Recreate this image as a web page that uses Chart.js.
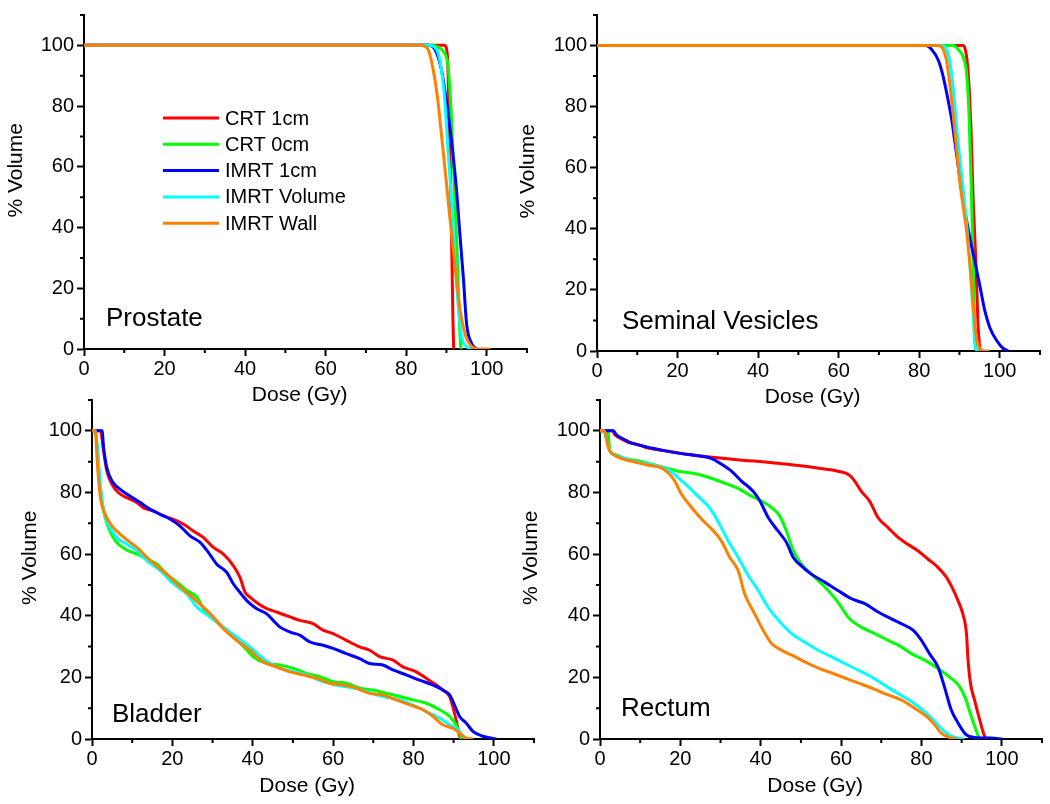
<!DOCTYPE html>
<html>
<head>
<meta charset="utf-8">
<script src="https://cdn.jsdelivr.net/npm/chart.js@4.4.0/dist/chart.umd.min.js"></script>
<style>
  body { margin: 0; background: #fff; }
  #wrap { position: relative; width: 1050px; height: 804px; overflow: hidden; background: #fff; }
  .panel { position: absolute; }
</style>
</head>
<body>
<div id="wrap">
  <div class="panel" style="left:0;top:0;width:540px;height:410px"><canvas id="prostate"></canvas></div>
  <div class="panel" style="left:510px;top:0;width:540px;height:410px"><canvas id="seminal"></canvas></div>
  <div class="panel" style="left:0;top:385px;width:545px;height:419px"><canvas id="bladder"></canvas></div>
  <div class="panel" style="left:510px;top:385px;width:540px;height:419px"><canvas id="rectum"></canvas></div>
</div>
<script>
const FONT = '"Liberation Sans", Arial, sans-serif';

const seriesNames = ['CRT 1cm', 'CRT 0cm', 'IMRT 1cm', 'IMRT Volume', 'IMRT Wall'];
const seriesColors = ['#ff0000', '#00ff00', '#0000ff', '#00ffff', '#ff8000'];
const xTicks = [0, 20, 40, 60, 80, 100];
const yTicks = [0, 20, 40, 60, 80, 100];

// Prostate  [dose Gy, % volume]
const prostateCrt1 = [[0,100],[89.5,100],[90.0,99],[90.3,95],[90.6,80],[91.0,58],[91.3,35],[91.6,10],[91.8,0]];
const prostateCrt0 = [[0,100],[86.5,100],[88,99.3],[89.2,98],[90.4,93],[91.25,76],[92.1,49],[92.75,28],[93.3,6],[93.6,0]];
const prostateImrt1 = [[0,100],[85.4,100],[87.1,98.7],[88.75,92],[90,81.5],[91.25,68.6],[92.5,52.4],[93.3,38.4],[94.2,23.4],[95,8.3],[96.25,1.8],[97.5,0]];
const prostateImrtVol = [[0,100],[85.5,100],[87.5,98.7],[88.75,92],[89.6,81.5],[90.4,65.3],[91.25,49.2],[92.1,29.8],[92.9,14.7],[93.75,4],[95,0.8],[96.25,0]];
const prostateImrtWall = [[0,100],[83.5,100],[85.4,98.7],[86.7,92],[87.9,81.5],[88.75,70.7],[90,54.6],[90.8,43.8],[92.1,27.7],[93.3,13.7],[94.6,5],[96.25,0.8],[97.9,0],[101,0]];

// Seminal vesicles
const seminalCrt1 = [[0,100],[90.8,100],[91.4,99],[92.2,90.6],[92.9,71.3],[93.4,49.8],[94.1,28.3],[94.6,8.9],[95.1,0]];
const seminalCrt0 = [[0,100],[88.5,100],[89.7,98.7],[91,96],[91.8,90.6],[92.4,76.7],[92.9,55.2],[93.3,33.7],[93.7,12.2],[94,1.4],[94.3,0]];
const seminalImrt1 = [[0,100],[81.5,100],[83.1,98.7],[84.8,95],[86,89.6],[87.2,82],[88.1,75.6],[88.9,68],[89.7,60.5],[90.5,53],[91.4,45.5],[92.6,36.9],[93.8,29.4],[95,21.8],[96.3,13.2],[97.5,7.8],[99.2,3.5],[100.8,0.9],[102.1,0]];
const seminalImrtVol = [[0,100],[85.3,100],[86.8,98.7],[87.7,93.9],[88.5,85.3],[89.3,73.4],[90.1,62.7],[91,51.9],[91.8,41.2],[92.6,28.3],[93.4,12.2],[93.8,2.5],[94.6,0]];
const seminalImrtWall = [[0,100],[84.8,100],[86,98.7],[86.8,95],[87.7,86.3],[88.5,76.7],[89.3,65.9],[90.1,55.2],[91,46.6],[91.8,39],[92.6,28.3],[93.4,15.4],[94.2,4.6],[95,0.9],[96.3,0],[97.5,0]];

// Bladder
const bladderCrt1 = [[0,100],[2.1,100],[2.9,93.3],[3.7,86.9],[5,82.6],[6.6,79.9],[8.7,78.3],[11.2,76.7],[12.8,75],[15.3,74],[17.8,72.4],[20.3,71.3],[22.8,69.7],[25.2,67.5],[27.7,65.4],[30.2,62.2],[32.7,60],[35.2,56.2],[36.8,52.5],[38.1,47.6],[39.3,46],[41.4,43.9],[43.5,42.3],[45.9,41.2],[49.3,39.6],[51.7,38.5],[55,37.4],[57.5,35.3],[60,34.2],[63.3,32],[66.6,29.9],[69.1,28.8],[71.6,26.7],[74.9,25.6],[77.4,23.4],[80.7,21.8],[83.2,19.7],[85.7,17.5],[87.3,15.9],[89,13.8],[89.8,10.5],[90.6,6.2],[91.5,0.9],[91.9,0]];
const bladderCrt0 = [[0,100],[0.8,100],[1.4,93.3],[2.1,81.5],[2.9,74],[4.1,68.6],[5.8,64.3],[8.3,61.6],[11.2,60],[13.7,58.4],[16.1,56.8],[18.6,53.5],[21.1,50.9],[23.6,48.2],[26.1,46],[27.3,43.3],[28.6,40.6],[31,38],[34.4,34.2],[37.8,29.9],[40.1,26.7],[43.5,24.5],[46.8,24],[50.1,22.9],[53.4,21.3],[56.7,20.2],[60,18.6],[63.3,18.1],[66.6,16.5],[69.9,15.9],[73.3,14.8],[76.6,13.8],[79.9,12.7],[83.2,11.6],[86.5,9.5],[89,7.3],[90.6,4.6],[91.5,1.9],[91.9,0]];
const bladderImrt1 = [[0,100],[2.5,100],[2.9,94.4],[3.7,88],[5,83.7],[7,81],[9.5,78.8],[12,76.7],[14.5,74.5],[17,72.9],[19.5,71.3],[21.9,69.1],[24.4,65.9],[26.9,63.8],[29,60.5],[31,56.8],[33.5,54.1],[35.2,50.3],[36.8,47.6],[38.9,44.4],[41,42.3],[43.5,40.6],[45.1,38.5],[46.8,36.3],[49.3,34.7],[51.7,33.7],[54.2,31.5],[57.5,30.4],[60,29.4],[63.3,27.7],[66.6,26.1],[69.1,24.5],[72.4,24],[74.9,22.4],[78.2,20.8],[81.5,19.1],[84.9,17.5],[87.3,15.9],[89,14.3],[90.2,11.1],[91.5,7.3],[93.1,5.2],[94.8,2.5],[97.3,0.9],[100.6,0]];
const bladderImrtVol = [[0,100],[0.8,100],[1.7,88],[2.5,77.2],[3.7,70.8],[6.2,65.4],[8.7,63.2],[11.2,61.1],[13.7,57.8],[17,54.6],[20.3,50.3],[23.6,47.1],[26.1,42.8],[29.4,39.6],[32.7,36.3],[36,33.1],[39.3,29.9],[42.6,26.1],[45.9,23.4],[50.1,21.8],[53.4,20.8],[57.5,18.6],[60.8,17.5],[65,16.5],[68.3,15.4],[72.4,13.8],[76.6,12.7],[80.7,10.5],[84,8.4],[86.5,6.8],[89,4.6],[91.1,3],[92.3,0.9],[93.1,0]];
const bladderImrtWall = [[0,100],[0.8,100],[1.4,88],[2.1,78.3],[3.3,72.9],[5,69.1],[7,66.5],[9.5,63.8],[11.2,62.2],[13.7,58.9],[16.1,56.2],[18.6,53.5],[21.1,50.3],[24.4,46.6],[27.7,42.8],[30.2,39.6],[32.7,35.8],[36,32],[39.3,28.8],[42.6,25.1],[45.9,23.4],[49.3,21.8],[52.6,20.8],[55.9,19.7],[59.2,18.1],[62.5,17.5],[65.8,16.5],[69.1,14.8],[72.4,14.3],[75.7,12.7],[79.1,11.1],[82.4,9.5],[84.9,7.3],[87.3,4.6],[89.8,3.5],[91.5,1.9],[93.1,0.3],[94.8,0]];

// Rectum
const rectumCrt1 = [[0,100],[3.1,100],[3.7,98.7],[5,97.6],[7,96.3],[9.5,95.5],[12,94.4],[16.2,93.5],[21.1,92.5],[26.1,91.7],[31.1,91],[36,90.4],[41,89.9],[46,89.2],[51,88.5],[55.9,87.6],[59.2,86.9],[62.1,85.6],[63.4,83.7],[65,80.4],[67.1,77.2],[69.2,71.8],[71.7,68.6],[74.2,65.4],[76.6,63.2],[79.1,61.1],[81.6,58.4],[84.1,55.7],[86.2,52.5],[87.8,48.7],[89.1,44.9],[90.3,40.6],[91.2,34.2],[91.6,25.6],[92.2,18.1],[93.2,12.7],[94.5,6.2],[95.7,0.9],[96.1,0]];
const rectumCrt0 = [[0,100],[1.9,100],[2.5,93.3],[3.7,92.3],[6.2,91],[9.5,90.3],[12.8,89.2],[16.2,88],[19.5,86.9],[22.8,86.3],[25.3,85.6],[28.6,84.2],[31.9,82.6],[34.4,81.3],[37.7,78.8],[40.2,77.2],[42.7,75.1],[44.7,72.4],[46.4,67.5],[48.1,61.1],[50.1,56.8],[53.4,52.5],[56.8,48.2],[59.2,44.4],[62.1,39],[65,36.3],[68.4,34.2],[71.7,32],[75,29.9],[77.5,27.7],[80.8,25.6],[84.1,22.9],[87.4,19.7],[89.5,17],[91.1,12.7],[92.4,7.3],[94,1.4],[94.4,0]];
const rectumImrt1 = [[0,100],[3.3,100],[4.1,98.7],[6.2,97.1],[7.9,96],[10.4,95.2],[12.8,94.4],[16.2,93.5],[20.3,92.6],[24.4,91.9],[27.8,91],[30.2,89.2],[32.7,86.9],[35.2,83.7],[38.1,80.4],[39.8,77.2],[41.9,71.8],[44.3,67.5],[46.4,63.8],[48.1,58.9],[50.1,56.2],[52.6,53.5],[55.9,50.9],[59.2,48.2],[62.6,45.5],[65.9,43.9],[69.2,41.2],[72.5,39],[75.8,36.9],[77.9,35.3],[80,32],[82,27.7],[84.1,23.4],[85.7,17],[87.4,9.5],[89.1,5.2],[91.1,1.4],[93.2,0.5],[97.3,0.3],[100.2,0]];
const rectumImrtVol = [[0,100],[0.8,100],[1.7,96.6],[2.5,93.3],[4.6,91.7],[7.9,90.3],[11.2,89.4],[14.5,88.5],[17,87.4],[19.5,84.7],[21.9,82],[24.4,78.8],[26.9,75.6],[28.6,72.4],[30.2,68.6],[31.9,64.3],[34.4,58.9],[36.9,53],[39.4,48.2],[41.8,42.8],[45.2,37.4],[47.7,34.2],[50.9,31.5],[54.3,28.8],[57.6,26.7],[60.9,24.5],[64.2,22.4],[67.5,20.2],[70.8,17.5],[74.1,14.8],[77.5,12.2],[80.8,8.9],[83.3,5.7],[85.7,2.5],[88.2,0.6],[90.7,0]];
const rectumImrtWall = [[0,100],[1.1,100],[2.1,94.4],[2.9,92.8],[5.4,91],[8.7,89.9],[12,88.8],[15.3,88],[17,86.3],[18.6,83.7],[20.3,79.4],[22.8,75.1],[25.3,71.3],[27.8,68.1],[30.2,64.3],[32.3,58.9],[34.4,54.6],[36,47.1],[38.5,40.6],[40.6,35.3],[42.7,31],[45.2,28.8],[48.5,26.7],[51.8,24.5],[55.1,22.6],[58.4,21.1],[61.7,19.4],[65,17.8],[68.4,16.1],[71.7,14.3],[75,12.7],[78.3,10],[80.8,7.8],[83.3,4.6],[84.9,1.9],[87.4,0.3],[89.1,0]];

// minor ticks between the labelled ones
const minorTicks = {
  id: 'minorTicks',
  afterDraw(chart) {
    const {ctx, scales: {x, y}} = chart;
    ctx.save();
    ctx.strokeStyle = '#000';
    ctx.lineWidth = 2;
    ctx.beginPath();
    for (let v = 10; v <= 110; v += 20) {
      const px = x.getPixelForValue(v);
      ctx.moveTo(px, x.top);
      ctx.lineTo(px, x.top + 4);
      const py = y.getPixelForValue(v);
      ctx.moveTo(y.right, py);
      ctx.lineTo(y.right - 4, py);
    }
    ctx.stroke();
    ctx.restore();
  }
};

// organ name in the lower left corner
const panelLabel = {
  id: 'panelLabel',
  afterDraw(chart, args, opts) {
    if (!opts.text) return;
    const {ctx, chartArea} = chart;
    ctx.save();
    ctx.font = '26px ' + FONT;
    ctx.fillStyle = '#000';
    ctx.textBaseline = 'alphabetic';
    ctx.fillText(opts.text, chartArea.left + opts.dx, chartArea.bottom - opts.dy);
    ctx.restore();
  }
};

// legend drawn inside the first panel
const dvhLegend = {
  id: 'dvhLegend',
  afterDraw(chart, args, opts) {
    if (!opts.show) return;
    const {ctx, chartArea} = chart;
    const x0 = chartArea.left + opts.dx;
    ctx.save();
    ctx.font = '20px ' + FONT;
    ctx.textBaseline = 'middle';
    seriesNames.forEach((name, i) => {
      const y = chartArea.top + opts.dy + i * opts.rowH;
      ctx.strokeStyle = seriesColors[i];
      ctx.lineWidth = 3;
      ctx.beginPath();
      ctx.moveTo(x0, y);
      ctx.lineTo(x0 + opts.lineLen, y);
      ctx.stroke();
      ctx.fillStyle = '#000';
      ctx.fillText(name, x0 + opts.lineLen + 6, y + 1);
    });
    ctx.restore();
  }
};

function axis(title, titlePad, ticks, fitSize, vertical) {
  return {
    type: 'linear',
    min: 0,
    max: 110,
    afterBuildTicks: s => { s.ticks = ticks.map(v => ({value: v})); },
    afterFit: s => { if (vertical) s.width = fitSize; else s.height = fitSize; },
    border: { display: true, color: '#000', width: 2 },
    grid: { display: true, drawOnChartArea: false, drawTicks: true, tickLength: 7, tickWidth: 2, tickColor: '#000' },
    ticks: { color: '#000', font: { size: 20, family: FONT }, padding: vertical ? 3 : 1, maxRotation: 0, autoSkip: false },
    title: { display: true, text: title, color: '#000', font: { size: 21, family: FONT }, padding: titlePad }
  };
}

function makePanel(id, label, series, cfg) {
  const datasets = series.map((pts, i) => ({
    label: seriesNames[i],
    data: pts.map(p => ({ x: p[0], y: p[1] })),
    borderColor: seriesColors[i],
    borderWidth: 3,
    pointRadius: 0,
    fill: false,
    cubicInterpolationMode: 'monotone',
    order: series.length - i
  }));
  new Chart(document.getElementById(id), {
    type: 'line',
    data: { datasets },
    options: {
      responsive: true,
      maintainAspectRatio: false,
      animation: false,
      layout: { padding: { top: cfg.padTop, right: cfg.padRight, left: 0, bottom: 0 } },
      scales: {
        x: axis('Dose (Gy)  ', { top: 0, bottom: cfg.xTitlePad }, xTicks, cfg.xHeight, false),
        y: axis('    % Volume', { top: cfg.yTitlePad, bottom: 0 }, yTicks, cfg.yWidth, true)
      },
      plugins: {
        legend: { display: false },
        tooltip: { enabled: false },
        panelLabel: { text: label, dx: cfg.labelDx, dy: cfg.labelDy },
        dvhLegend: { show: !!cfg.legend, dx: 79, dy: 103, rowH: 26.3, lineLen: 56 }
      }
    },
    plugins: [minorTicks, panelLabel, dvhLegend]
  });
}

makePanel('prostate', 'Prostate',
  [prostateCrt1, prostateCrt0, prostateImrt1, prostateImrtVol, prostateImrtWall],
  { padTop: 8, padRight: 13, yWidth: 84, xHeight: 61, yTitlePad: 3.5, xTitlePad: 2, labelDx: 22, labelDy: 23, legend: true });

makePanel('seminal', 'Seminal Vesicles',
  [seminalCrt1, seminalCrt0, seminalImrt1, seminalImrtVol, seminalImrtWall],
  { padTop: 10, padRight: 10, yWidth: 87, xHeight: 59, yTitlePad: 5.5, xTitlePad: 0.5, labelDx: 25, labelDy: 22 });

makePanel('bladder', 'Bladder',
  [bladderCrt1, bladderCrt0, bladderImrt1, bladderImrtVol, bladderImrtWall],
  { padTop: 13, padRight: 11, yWidth: 92, xHeight: 65, yTitlePad: 17.5, xTitlePad: 5.5, labelDx: 20, labelDy: 17.5 });

makePanel('rectum', 'Rectum',
  [rectumCrt1, rectumCrt0, rectumImrt1, rectumImrtVol, rectumImrtWall],
  { padTop: 13, padRight: 8, yWidth: 90, xHeight: 65, yTitlePad: 8.5, xTitlePad: 5.5, labelDx: 21, labelDy: 23 });
</script>
</body>
</html>
